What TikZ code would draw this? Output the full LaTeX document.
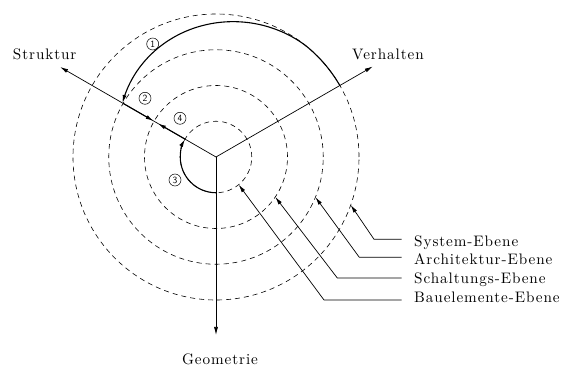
\documentclass[tikz,border=0pt]{standalone}
\usepackage{fontspec}
\usetikzlibrary{arrows.meta,calc}
\newfontfamily\lblfont{lmroman10-regular.otf}[LetterSpace=6]
\tikzset{
  ax/.style={line width=0.7pt, -{Latex[length=8pt,width=4pt]}},
  lev/.style={dash pattern=on 5pt off 4pt, line width=0.6pt},
  flow/.style={line width=1.1pt, -{Latex[length=8pt,width=4pt]}},
  leader/.style={line width=0.7pt, -{Latex[length=8pt,width=4pt]}},
  lbl/.style={inner sep=0pt, font=\lblfont\fontsize{15.2}{17}\selectfont},
  num/.style={circle, draw, line width=0.5pt, minimum size=12pt, inner sep=0pt,
    font=\sffamily\fontsize{9.5}{10}\selectfont},
}
\begin{document}
\begin{tikzpicture}[x=1pt,y=1pt]
\path[use as bounding box] (0,0) rectangle (563,367);
\coordinate (C) at (216,210);
% level circles
\foreach \r in {35.75,71.5,107.25,143} \draw[lev] (C) circle[radius=\r pt];
% axes
\coordinate (S) at ($(C)+(150:180pt)$);
\coordinate (V) at ($(C)+(30:181pt)$);
\coordinate (G) at ($(C)+(270:178pt)$);
\draw[ax] (C) -- (S);
\draw[ax] (C) -- (V);
\draw[ax] (C) -- (G);
\node[lbl, anchor=base] (tS) at (44.7,307.5) {Struktur};
\node[lbl, anchor=base] (tV) at (388,307.5) {Verhalten};
\node[lbl, anchor=base] (tG) at (220,2) {Geometrie};
% design flow arrows
\begin{scope}[shift={(C)}]
\draw[flow] plot[domain=30:150, samples=90] (\x:{143-35*pow(max(0.0001,(\x-50)/100),1.5)});
\coordinate (a2s) at (150:107.25pt);
\coordinate (a2e) at (150:72pt);
\coordinate (a4s) at (150:35.75pt);
\coordinate (a4e) at (150:67pt);
\coordinate (a3s) at (270:35.75pt);
\end{scope}
\draw[flow] (a2s) -- (a2e);
\draw[flow] (a4s) -- (a4e);
\draw[flow] (a3s) arc[start angle=270, end angle=150, radius=35.75pt];
\node[num] (n1) at (152.7,323) {1};
\node[num] (n2) at (145,268.7) {2};
\node[num] (n4) at (180,248.7) {4};
\node[num] (n3) at (175,187) {3};
% level labels
\node[lbl, anchor=base west] (sys) at (414,120.3) {System-Ebene};
\node[lbl, anchor=base west] (arc) at (414,102.7) {Architektur-Ebene};
\node[lbl, anchor=base west] (sch) at (414,83.7) {Schaltungs-Ebene};
\node[lbl, anchor=base west] (bau) at (414,64.3) {Bauelemente-Ebene};
\coordinate (sysT) at ($(C)+(-19.6:143pt)$);
\coordinate (arcT) at ($(C)+(-22:107.25pt)$);
\coordinate (schT) at ($(C)+(-34:71.5pt)$);
\coordinate (bauT) at ($(C)+(-50.7:35.75pt)$);
\coordinate (sysE) at (401.7,127.7);
\coordinate (sysB) at (374,127.7);
\coordinate (arcE) at (401.7,109.7);
\coordinate (arcB) at (359.3,109.7);
\coordinate (schE) at (401.7,89);
\coordinate (schB) at (337.3,89);
\coordinate (bauE) at (401.7,67);
\coordinate (bauB) at (324,67);
\draw[leader] (sysE) -- (sysB) -- (sysT);
\draw[leader] (arcE) -- (arcB) -- (arcT);
\draw[leader] (schE) -- (schB) -- (schT);
\draw[leader] (bauE) -- (bauB) -- (bauT);
\end{tikzpicture}
\end{document}
